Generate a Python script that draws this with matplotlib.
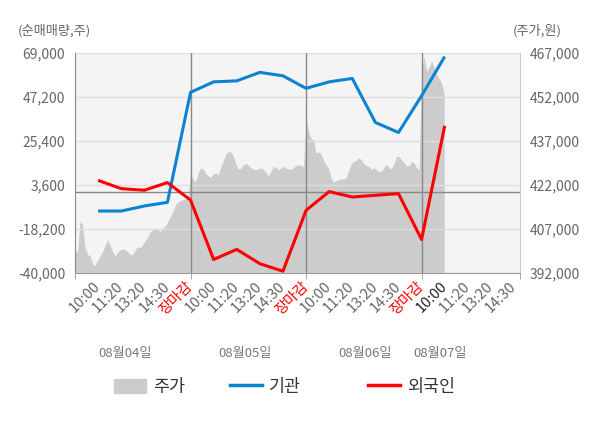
import numpy as np
import matplotlib.pyplot as plt
from matplotlib.patches import Patch
from matplotlib.lines import Line2D

plt.rcParams['font.family'] = ['Noto Sans CJK KR', 'DejaVu Sans']

# 날짜 / 시간 라벨
days = ['08월04일', '08월05일', '08월06일', '08월07일']
times = ['10:00', '11:20', '13:20', '14:30', '장마감']
last_times = ['10:00', '11:20', '13:20', '14:30']

# 순매매량 (주)
inst = [-9300, -9300, -6800, -5000, 49500,
        54700, 55200, 59400, 57700, 51500,
        54700, 56400, 34600, 29600, 47800,
        67200]
foreign = [5900, 1800, 1000, 4800, -3850,
           -33300, -28300, -35400, -39100, -8970,
           320, -2360, -1500, -670, -23400,
           32900]

# 주가 (원)
price1 = [400000, 398700, 409600, 408600, 400700, 398300, 397900, 394900, 394600, 396300,
          397900, 399300, 401400, 403400, 401400, 399300, 397900, 399000, 400000, 400200,
          400000, 399200, 398300, 398300, 400000, 400900, 400700, 401700, 403100, 404300,
          406200, 406700, 407000, 406900, 406200, 407200, 408100, 409600, 411300, 413000,
          415200, 416200, 416700, 417000, 417300, 417700]
price2 = [426300, 423900, 423300, 426000, 427800, 427600, 426000, 425100, 424600, 425700,
          426200, 425500, 427900, 430300, 432600, 433300, 433300, 431900, 429400, 427400,
          427700, 428900, 429300, 428800, 427900, 427500, 427200, 427500, 427900, 427400,
          426400, 425000, 426700, 428300, 428000, 427300, 427700, 428300, 427800, 427500,
          427400, 427900, 428700, 428900, 428600, 428400]
price3 = [443900, 440300, 437800, 437300, 432800, 433300, 432600, 430300, 428800, 427500,
          424300, 422900, 423500, 423900, 424000, 424100, 424500, 427000, 429200, 430200,
          430400, 431300, 430600, 429300, 428500, 428400, 427400, 427900, 427100, 426700,
          426600, 428000, 429100, 427900, 427600, 429300, 431700, 431800, 430600, 429600,
          428500, 428500, 430000, 429500, 427900, 427200]
price4 = [460800, 466000, 460800, 462200, 464300, 461900, 459700, 458300, 456700, 453000]

W, H = 600, 428
fig = plt.figure(figsize=(W / 100, H / 100), dpi=100)
ax = fig.add_axes([75 / W, 1 - 273 / H, 445 / W, 220 / H])
ax2 = ax.twinx()
ax.set_zorder(ax2.get_zorder() + 1)
ax.patch.set_visible(False)
ax2.patch.set_visible(True)
ax2.patch.set_facecolor('#f4f4f4')

# 주가 영역
step = 5 / 46
px, py = [], []
for d, vals in enumerate([price1, price2, price3, price4]):
    px += list(d * 5 + np.arange(len(vals)) * step)
    py += vals
ax2.fill_between(px, 392000, py, color='#cccccc', lw=0)
ax2.set_ylim(392000, 467000)
ax2.set_yticks(range(392000, 467001, 15000))
ax2.set_yticklabels([f'{v:,}' for v in range(392000, 467001, 15000)])

# 순매매량 라인
xs = np.arange(1, len(inst) + 1)
ax.set_ylim(-40000, 69000)
yt = [-40000, -18200, 3600, 25400, 47200, 69000]
ax.set_yticks(yt)
ax.set_yticklabels([f'{v:,}' for v in yt])
ax.grid(axis='y', color='#dddddd', lw=1)
ax.axhline(0, color='#888888', lw=1)
for b in [5, 10, 15]:
    ax.axvline(b, color='#888888', lw=1)
ax.plot(xs, inst, color='#0a84d0', lw=2.2, solid_capstyle='butt')
ax.plot(xs, foreign, color='#ff0000', lw=2.2, solid_capstyle='butt')

xmax = 19.26
ax.set_xlim(0, xmax)
ax.xaxis.remove_overlapping_locs = False
pos = list(range(1, 20))
labs = times * 3 + last_times
ax.set_xticks(pos, labs)
ax.set_xticks([0, 5, 10, 15, xmax], minor=True)
ax.tick_params(axis='x', which='minor', length=4, color='#999999')
ax.tick_params(axis='x', which='major', length=0, pad=8, labelsize=10.5, labelcolor='#666666')
for i, t in enumerate(ax.get_xticklabels()):
    t.set_rotation(45)
    t.set_rotation_mode('anchor')
    t.set_ha('right')
    t.set_va('center')
    if labs[i] == '장마감':
        t.set_color('#ff0000')
    elif i == 15:
        t.set_color('#222222')

for a in (ax, ax2):
    a.tick_params(axis='y', length=0, labelsize=10, labelcolor='#666666', pad=7)
    a.spines['top'].set_visible(False)
ax.spines['left'].set_color('#888888')
ax.spines['bottom'].set_color('#999999')
ax.spines['right'].set_visible(False)
ax2.spines['left'].set_visible(False)
ax2.spines['bottom'].set_visible(False)
ax2.spines['right'].set_color('#cccccc')

# 날짜 라벨
for x, d in zip([2.16, 7.36, 12.55, 15.8], days):
    ax.text(x, -80 / 220, d, transform=ax.get_xaxis_transform(), ha='center', va='center',
            fontsize=9.5, color='#777777')

fig.text(18 / W, 1 - 31 / H, '(순매매량,주)', ha='left', va='center', fontsize=9.5, color='#666666')
fig.text(562 / W, 1 - 31 / H, '(주가,원)', ha='right', va='center', fontsize=9.5, color='#666666')

# 범례
items = [(Patch(color='#cccccc'), '주가', 114),
         (Line2D([], [], color='#0a84d0', lw=2.5), '기관', 230),
         (Line2D([], [], color='#ff0000', lw=2.5), '외국인', 368)]
for h, l, x0 in items:
    fig.legend([h], [l], loc='center left', bbox_to_anchor=(x0 / W, 1 - 387 / H),
               frameon=False, fontsize=12.5, handlelength=1.85, handleheight=0.9,
               handletextpad=0.4, borderpad=0, borderaxespad=0, labelcolor='#333333')

fig.savefig('out.png', dpi=100)
